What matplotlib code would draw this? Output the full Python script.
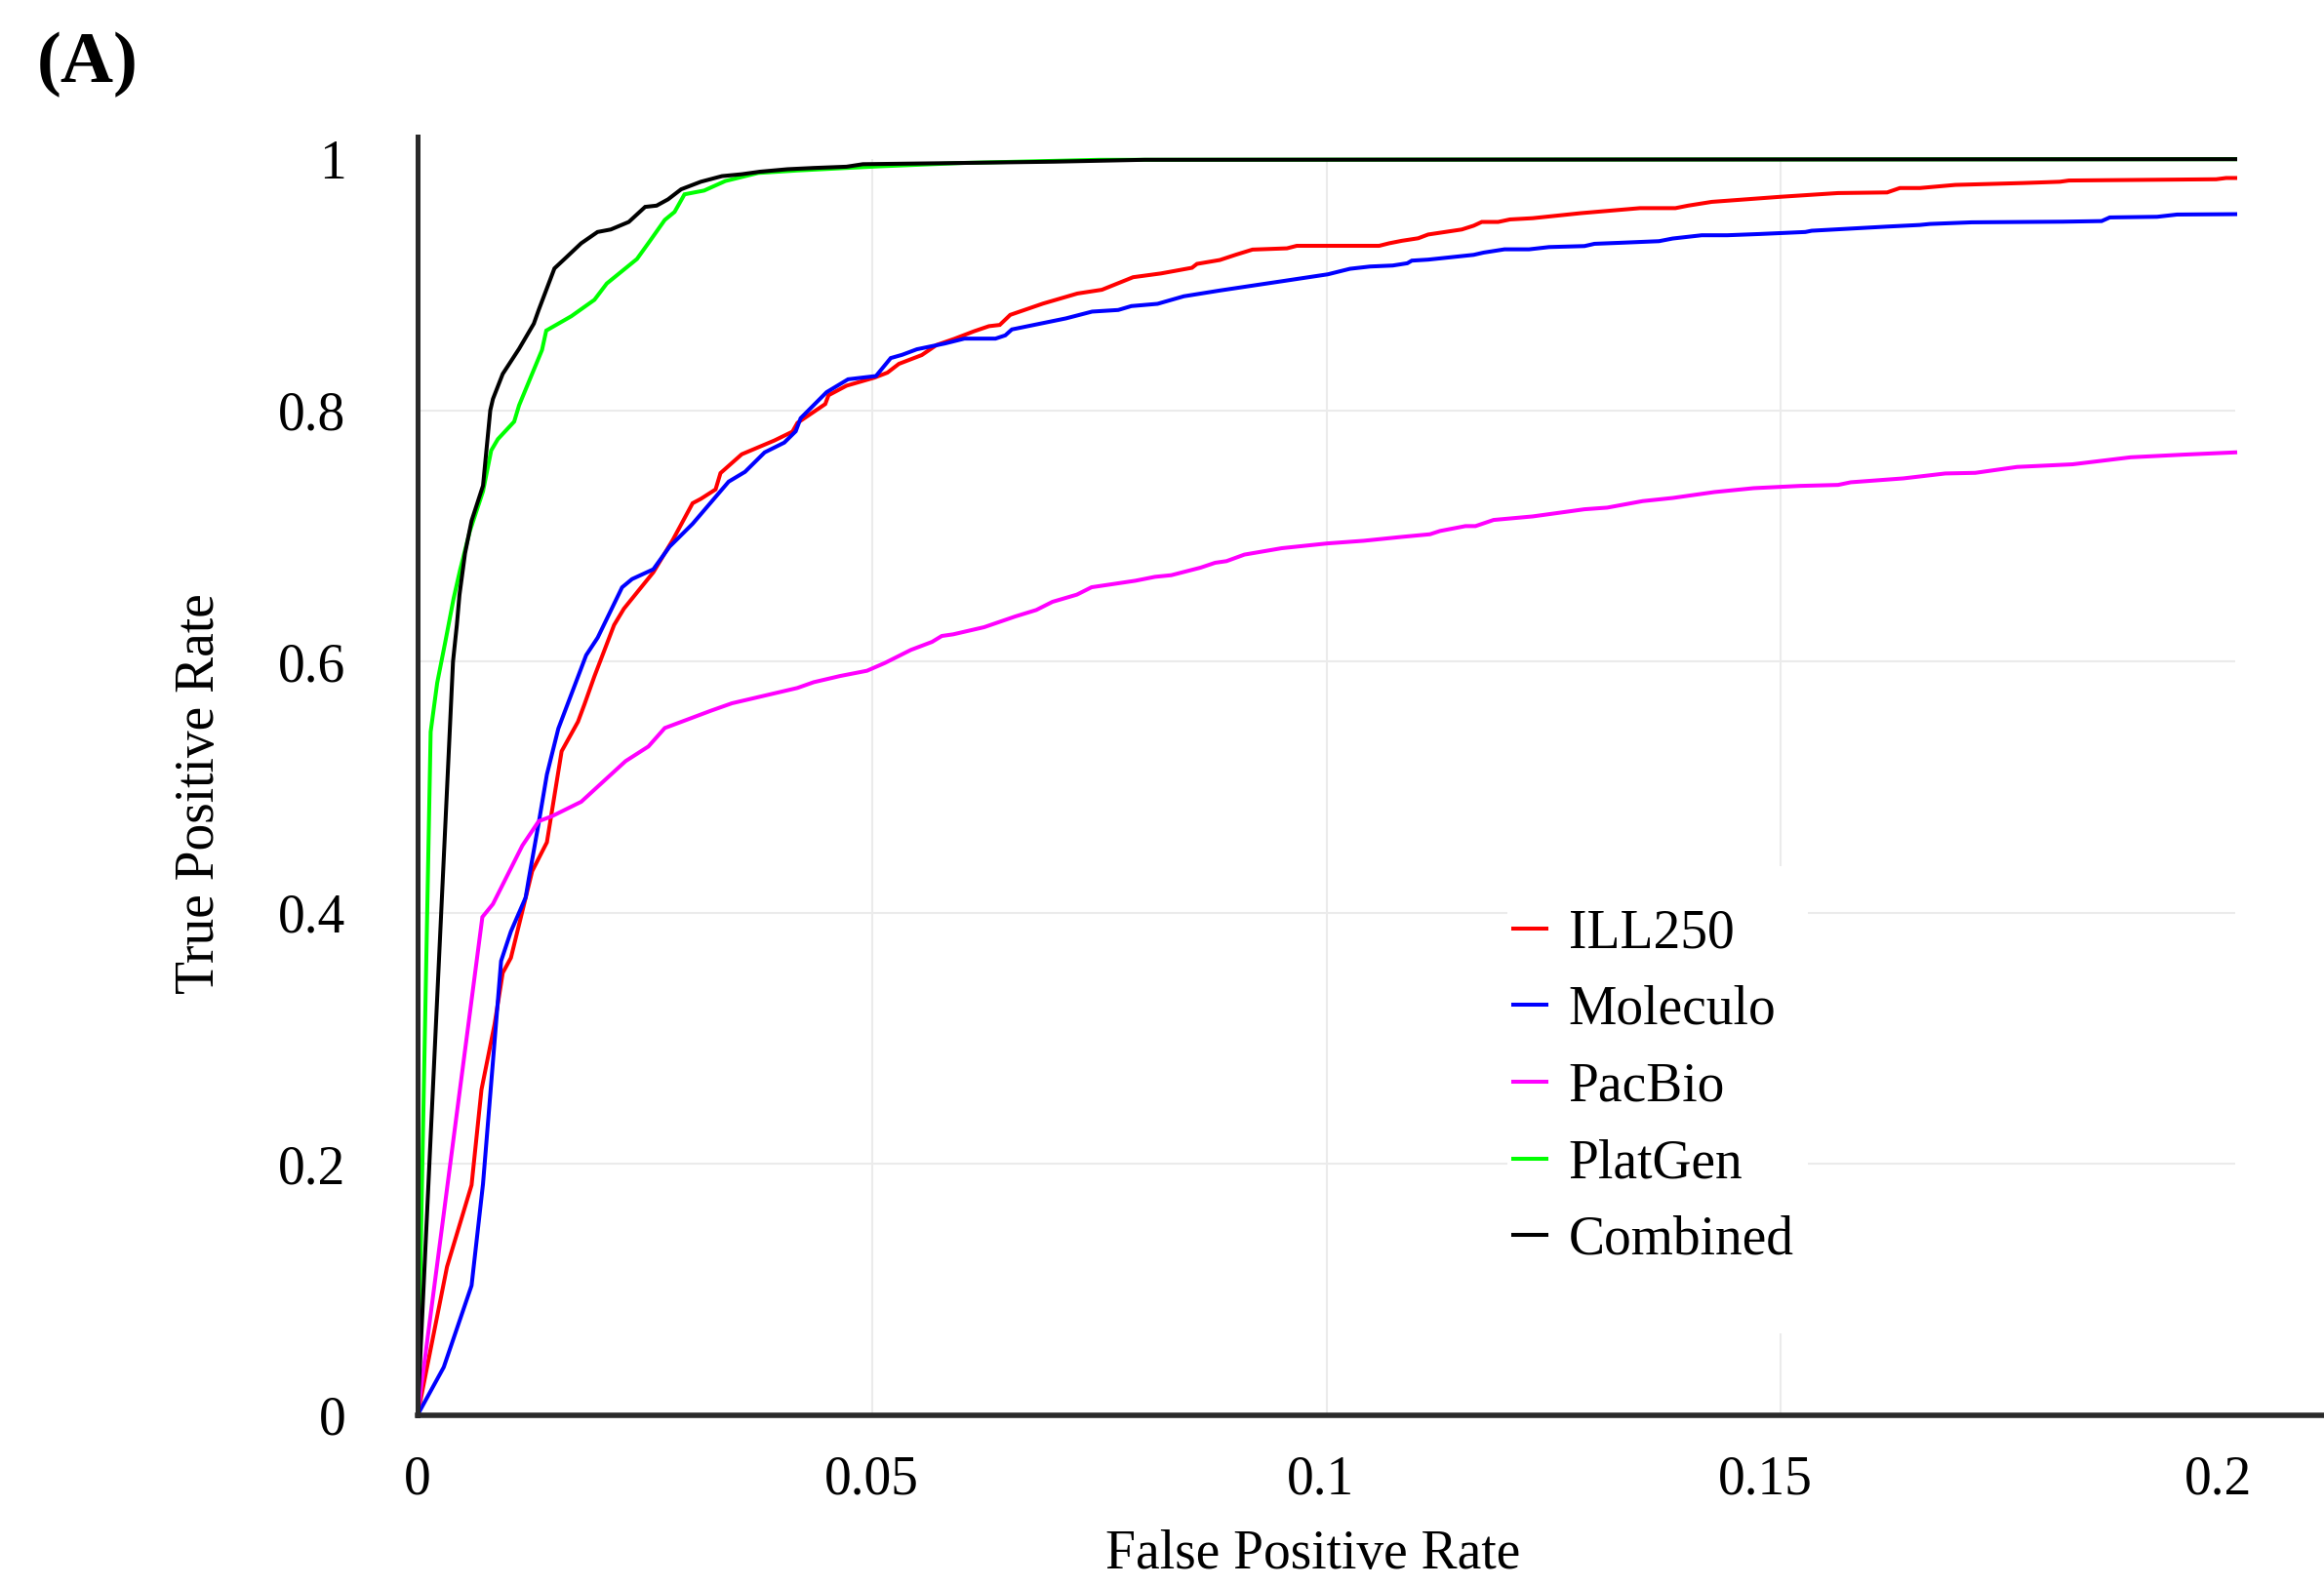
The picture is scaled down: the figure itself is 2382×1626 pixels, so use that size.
import matplotlib
matplotlib.use("Agg")
import matplotlib.pyplot as plt
import matplotlib.transforms as mtransforms
from matplotlib.patches import Rectangle

plt.rcParams["font.family"] = ["Liberation Serif", "DejaVu Serif"]

# Curvas ROC (FPR, TPR)
ill250_x = [0, 0.00324, 0.00594, 0.00703, 0.00847, 0.00937, 0.01027, 0.01261, 0.01423, 0.01585,
            0.01765, 0.01837, 0.01945, 0.02162, 0.0227, 0.02594, 0.0281, 0.03026, 0.03117, 0.03279,
            0.03333, 0.03567, 0.03927, 0.04125, 0.0418, 0.04486, 0.04522, 0.0472, 0.05026, 0.0517,
            0.05296, 0.05548, 0.0571, 0.05909, 0.06125, 0.06287, 0.06406, 0.06521, 0.06882, 0.0726,
            0.0753, 0.07873, 0.0818, 0.08521, 0.08576, 0.08828, 0.09008, 0.09187, 0.09566, 0.09674,
            0.1058, 0.1069, 0.1083, 0.1101, 0.1112, 0.1149, 0.1162, 0.1171, 0.1189, 0.1202,
            0.1227, 0.128, 0.1345, 0.1384, 0.1398, 0.1424, 0.1499, 0.1563, 0.1617, 0.1631,
            0.1653, 0.1692, 0.1767, 0.1807, 0.1817, 0.1979, 0.199, 0.2]
ill250_y = [0, 0.118, 0.183, 0.259, 0.311, 0.352, 0.364, 0.433, 0.456, 0.5285,
            0.552, 0.566, 0.588, 0.629, 0.642, 0.671, 0.697, 0.726, 0.7295, 0.737,
            0.75, 0.765, 0.776, 0.783, 0.79, 0.805, 0.812, 0.8196, 0.826, 0.83,
            0.837, 0.844, 0.852, 0.857, 0.863, 0.867, 0.868, 0.876, 0.885, 0.893,
            0.896, 0.906, 0.909, 0.9135, 0.9166, 0.9197, 0.924, 0.928, 0.929, 0.931,
            0.931, 0.933, 0.935, 0.937, 0.94, 0.944, 0.947, 0.95, 0.95, 0.952,
            0.953, 0.957, 0.961, 0.961, 0.963, 0.966, 0.97, 0.973, 0.9735, 0.977,
            0.977, 0.9795, 0.981, 0.982, 0.983, 0.984, 0.985, 0.985]

moleculo_x = [0, 0.00288, 0.00594, 0.0072, 0.00919, 0.01027, 0.01189, 0.01225, 0.01333, 0.01423,
              0.01549, 0.01855, 0.01982, 0.0225, 0.0236, 0.02594, 0.02774, 0.03026, 0.03423, 0.03603,
              0.03819, 0.04035, 0.04161, 0.04215, 0.045, 0.04737, 0.05044, 0.05206, 0.05332, 0.05494,
              0.05801, 0.06017, 0.06359, 0.06467, 0.06539, 0.07134, 0.07422, 0.0771, 0.07854, 0.08142,
              0.08431, 0.08827, 0.09187, 0.09548, 0.10016, 0.1026, 0.1048, 0.1073, 0.1089, 0.1094,
              0.1112, 0.1162, 0.1173, 0.1196, 0.1223, 0.1245, 0.1284, 0.1295, 0.1323, 0.1366,
              0.1381, 0.1413, 0.1441, 0.1477, 0.1527, 0.1534, 0.1617, 0.1653, 0.1664, 0.171,
              0.181, 0.1853, 0.1862, 0.1914, 0.1936, 0.2]
moleculo_y = [0, 0.038, 0.103, 0.184, 0.3615, 0.385, 0.412, 0.4275, 0.4715, 0.51,
              0.5466, 0.605, 0.619, 0.659, 0.6656, 0.6734, 0.6915, 0.7096, 0.7432, 0.751,
              0.7665, 0.7743, 0.7833, 0.7937, 0.8144, 0.8247, 0.8273, 0.8416, 0.8442, 0.8486,
              0.8532, 0.8571, 0.8571, 0.8597, 0.8644, 0.8732, 0.8786, 0.8799, 0.883, 0.8848,
              0.8908, 0.8954, 0.8993, 0.9032, 0.9083, 0.9127, 0.9145, 0.9153, 0.9171, 0.9192,
              0.92, 0.9238, 0.9256, 0.9282, 0.9282, 0.93, 0.9308, 0.9326, 0.9334, 0.9347,
              0.9368, 0.9394, 0.9394, 0.9404, 0.942, 0.943, 0.9463, 0.9476, 0.9484, 0.9497,
              0.9502, 0.9507, 0.9536, 0.9541, 0.9559, 0.9562]

pacbio_x = [0, 0.00713, 0.00829, 0.01153, 0.01333, 0.01477, 0.01801, 0.02288, 0.0254, 0.0272,
            0.03225, 0.03459, 0.04179, 0.04359, 0.04648, 0.04945, 0.05142, 0.05428, 0.05661, 0.05768,
            0.05893, 0.06234, 0.06575, 0.06808, 0.06986, 0.07254, 0.07416, 0.07899, 0.08114, 0.08293,
            0.08615, 0.08776, 0.08901, 0.09098, 0.09509, 0.1001, 0.1041, 0.1083, 0.1114, 0.1125,
            0.1153, 0.1164, 0.1184, 0.1227, 0.1284, 0.1309, 0.1348, 0.1381, 0.1427, 0.147,
            0.1521, 0.1563, 0.1577, 0.1635, 0.1681, 0.1714, 0.176, 0.1821, 0.1885, 0.1943, 0.2]
pacbio_y = [0, 0.3965, 0.4068, 0.4534, 0.4728, 0.4767, 0.4883, 0.5206, 0.5323, 0.547,
            0.5607, 0.5667, 0.5789, 0.5835, 0.5884, 0.5926, 0.5988, 0.6092, 0.6156, 0.6203,
            0.6216, 0.6273, 0.6358, 0.641, 0.6475, 0.6532, 0.6591, 0.6643, 0.6674, 0.6687,
            0.6747, 0.6786, 0.6799, 0.6851, 0.6902, 0.694, 0.6961, 0.6992, 0.7013, 0.7039,
            0.7078, 0.7078, 0.7127, 0.7155, 0.7212, 0.7225, 0.7277, 0.7302, 0.7349, 0.738,
            0.7398, 0.7406, 0.7427, 0.7458, 0.7497, 0.7502, 0.7549, 0.757, 0.7626, 0.7647, 0.7665]

platgen_x = [0, 0.00144, 0.00216, 0.00306, 0.00396, 0.00468, 0.00576, 0.0072, 0.0081, 0.00883,
             0.01063, 0.01117, 0.01369, 0.01416, 0.01693, 0.01946, 0.02082, 0.02414, 0.02558, 0.0272,
             0.02828, 0.02937, 0.03153, 0.03387, 0.03747, 0.0418, 0.0472, 0.0508, 0.06, 0.075, 0.2]
platgen_y = [0, 0.544, 0.583, 0.616, 0.65, 0.673, 0.704, 0.7355, 0.768, 0.777,
             0.791, 0.804, 0.848, 0.8635, 0.875, 0.888, 0.901, 0.9205, 0.935, 0.9516,
             0.958, 0.972, 0.975, 0.9826, 0.989, 0.991, 0.993, 0.9943, 0.997, 0.9995, 1.0]

combined_x = [0, 0.0039, 0.00432, 0.00461, 0.00522, 0.00594, 0.0072, 0.008, 0.00829, 0.00937,
              0.01117, 0.01279, 0.01333, 0.01506, 0.01639, 0.018, 0.0198, 0.02126, 0.02324, 0.02504,
              0.0263, 0.02756, 0.029, 0.03116, 0.0335, 0.03567, 0.03765, 0.04071, 0.0436, 0.0472,
              0.049, 0.06, 0.07, 0.08, 0.2]
combined_y = [0, 0.6, 0.629, 0.653, 0.686, 0.712, 0.74, 0.8, 0.809, 0.829,
              0.849, 0.869, 0.88, 0.913, 0.922, 0.933, 0.942, 0.944, 0.95, 0.962,
              0.963, 0.968, 0.976, 0.982, 0.9865, 0.988, 0.99, 0.992, 0.993, 0.994,
              0.996, 0.997, 0.998, 0.9995, 1.0]

series = [
    ("ILL250", ill250_x, ill250_y, "#ff0000"),
    ("Moleculo", moleculo_x, moleculo_y, "#0000ff"),
    ("PacBio", pacbio_x, pacbio_y, "#ff00ff"),
    ("PlatGen", platgen_x, platgen_y, "#00ff00"),
    ("Combined", combined_x, combined_y, "#000000"),
]

x_ticks = [0, 0.05, 0.1, 0.15, 0.2]
x_labels = ["0", "0.05", "0.1", "0.15", "0.2"]
y_ticks = [0, 0.2, 0.4, 0.6, 0.8, 1.0]
y_labels = ["0", "0.2", "0.4", "0.6", "0.8", "1"]

W, H = 2382, 1626
fig = plt.figure(figsize=(W / 100, H / 100), dpi=100)
fig.patch.set_facecolor("white")

# ejes: x=0 en px 428, x=0.2 en px 2291, y=0 en px 1450, tope del eje en px 140
ax = fig.add_axes([428 / W, (H - 1450.6) / H, (W - 428) / W, (1450.6 - 140) / H])
ax.set_xlim(0, 0.2 * (W - 428) / (2291 - 428))
ax.set_ylim(0, 1.018)

grid_col = "#ebebeb"
ax.hlines([0.2, 0.4, 0.6, 0.8], 0, 0.2, color=grid_col, lw=1.5, zorder=0.5)
ax.vlines([0.05, 0.1, 0.15], 0, 1.0, color=grid_col, lw=1.5, zorder=0.5)

for name, xs, ys, col in series:
    ax.plot(xs, ys, color=col, lw=2.9, label=name, zorder=2, solid_joinstyle="miter")

# fondo blanco de la leyenda
ax.add_patch(Rectangle((1545 / W, 1 - 1367 / H), (1853 - 1545) / W, (1367 - 888) / H,
                       transform=fig.transFigure, facecolor="white", edgecolor="none", zorder=1.5))

leg = ax.legend(loc="upper left", bbox_to_anchor=(1551 / W, 1 - 931 / H),
                bbox_transform=fig.transFigure, frameon=False, fontsize=40,
                borderpad=0, borderaxespad=0, handlelength=0.62, handletextpad=0.4,
                labelspacing=0.48)
for line in leg.get_lines():
    line.set_linewidth(2.9)
leg.set_zorder(5)

for side in ["top", "right"]:
    ax.spines[side].set_visible(False)
ax.spines["left"].set_linewidth(3.6)
ax.spines["bottom"].set_linewidth(4)
ax.spines["left"].set_color("#2a2a2a")
ax.spines["bottom"].set_color("#2a2a2a")

ax.set_xticks(x_ticks)
ax.set_xticklabels(x_labels)
ax.set_yticks(y_ticks)
ax.set_yticklabels(y_labels)
ax.tick_params(axis="x", length=0, pad=29.5, labelsize=40)
ax.tick_params(axis="y", length=0, pad=53, labelsize=40)

# en el original las etiquetas de la derecha quedan algo corridas a la izquierda
shifts = [0, 0, -6, -16, -17]
for lab, dx in zip(ax.get_xticklabels(), shifts):
    lab.set_transform(lab.get_transform() + mtransforms.ScaledTranslation(dx / 100, 0, fig.dpi_scale_trans))

fig.text(1346 / W, 1 - 1608 / H, "False Positive Rate", ha="center", va="baseline", fontsize=40)
fig.text(205 / W, 1 - 814 / H, "True Positive Rate", ha="center", va="center",
         rotation=90, fontsize=40)
fig.text(38 / W, 1 - 84 / H, "(A)", ha="left", va="baseline", fontsize=54, fontweight="bold")

fig.savefig("out.png", dpi=100)
